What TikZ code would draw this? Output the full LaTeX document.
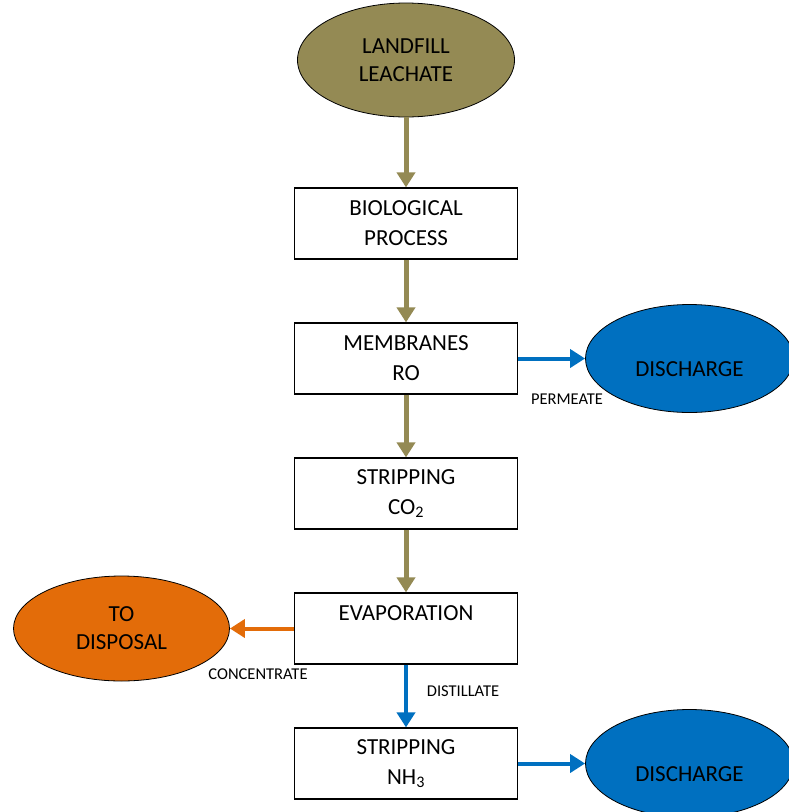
\documentclass[tikz,border=0pt]{standalone}
\usepackage{fontspec}
\setmainfont{Carlito}
\usetikzlibrary{arrows.meta}
\usetikzlibrary{positioning, shapes.geometric}
\definecolor{leachcol}{HTML}{948A54}
\definecolor{bluecol}{HTML}{0070C0}
\definecolor{orangecol}{HTML}{E36C09}
\newcommand{\sink}[1]{\raisebox{-18pt}[0pt][0pt]{#1}}

\begin{document}
\begin{tikzpicture}[x=1pt, y=-1pt, >={Triangle[width=18pt,length=15pt]}, font=\fontsize{23}{30}\selectfont]
		\tikzstyle{main}=[rectangle, draw=black, line width=1.2pt, minimum width=223pt, minimum height=71pt, align=center, node distance=62.8pt]
		\tikzstyle{blob}=[ellipse, draw=black, line width=0.8pt, minimum width=208pt, minimum height=108pt, inner sep=0pt, align=center, font=\fontsize{23}{28}\selectfont]
		\tikzstyle{connect}=[->, line width=5pt, draw=leachcol]
		\tikzstyle{flow}=[->, line width=4pt, draw=bluecol]
		\tikzstyle{tag}=[font=\fontsize{16.5}{18}\selectfont]
		\useasboundingbox (0,0) rectangle (788,812);
		\node[blob, fill=leachcol, minimum width=217pt, minimum height=114pt] (leach) at (406,60) {LANDFILL\\LEACHATE};
		\node[main] (bio) [below =70pt of leach] {BIOLOGICAL\\PROCESS};
		\node[main] (memb) [below =of bio] {MEMBRANES\\RO};
		\node[main] (co2) [below =of memb] {STRIPPING\\CO\textsubscript{2}};
		\node[main] (evap) [below =of co2] {EVAPORATION\\\mbox{}};
		\node[main] (nh3) [below =of evap] {STRIPPING\\NH\textsubscript{3}};
		\node[blob, fill=bluecol] (dis1) [right =67pt of memb] {\sink{DISCHARGE}};
		\node[blob, fill=orangecol, minimum width=216pt, minimum height=105pt] (dispo) [left =64pt of evap] {TO\\DISPOSAL};
		\node[blob, fill=bluecol] (dis2) [right =67pt of nh3] {\sink{DISCHARGE}};
		\node[tag] (perm) at (567,399) {PERMEATE};
		\node[tag] (conc) at (258,674) {CONCENTRATE};
		\node[tag] (dist) at (463,691) {DISTILLATE};
		\path
		(leach) edge [connect] (bio)
		(bio) edge [connect] (memb)
		(memb) edge [connect] (co2)
		(co2) edge [connect] (evap)
		(memb) edge [flow] (dis1)
		(evap) edge [flow, draw=orangecol] (dispo)
		(evap) edge [flow] (nh3)
		(nh3) edge [flow] (dis2)
		;
	\end{tikzpicture}
\end{document}
